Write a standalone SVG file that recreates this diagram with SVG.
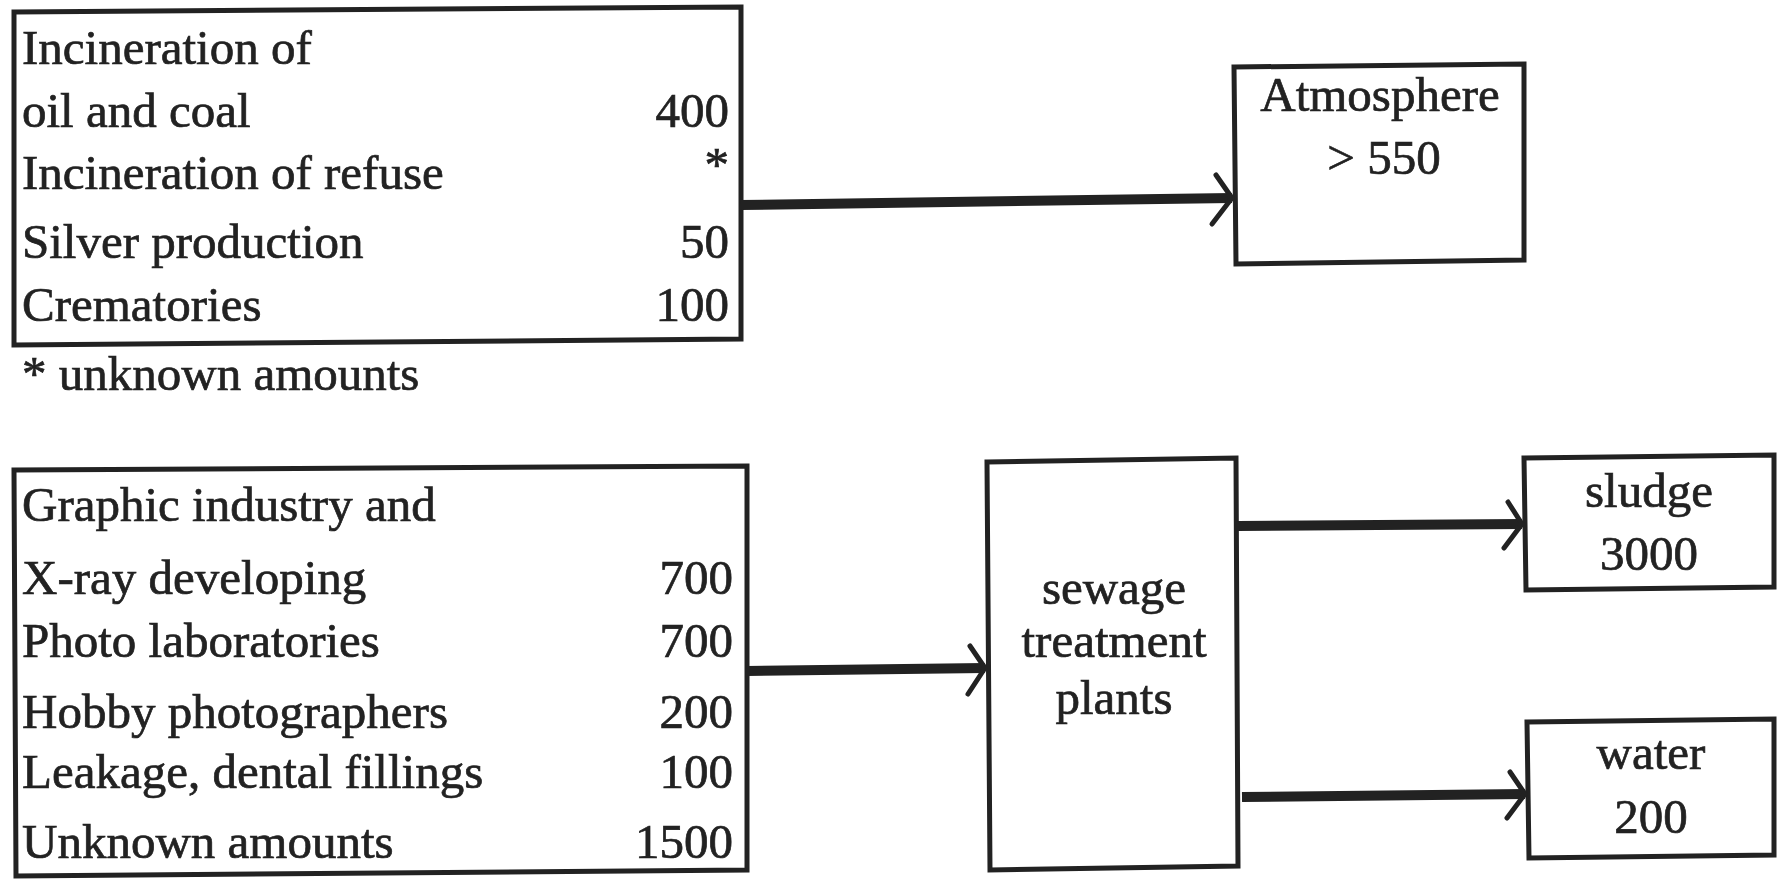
<svg xmlns="http://www.w3.org/2000/svg" width="1783" height="886" viewBox="0 0 1783 886">
<style>
.box{fill:none;stroke:#222;stroke-width:5}
.t{font-family:"Liberation Serif","Times New Roman",serif;font-size:49px;fill:#222;stroke:#222;stroke-width:0.7}
.r{text-anchor:end}
.c{text-anchor:middle}
.shaft{stroke:#222;stroke-width:10;fill:none}
.head{stroke:#222;stroke-width:5;fill:none;stroke-linecap:round;stroke-linejoin:round}
</style>
<rect width="1783" height="886" fill="#fff"/>
<g id="sources-air">
<path class="box" d="M14,12 L741,7 L741,339 L14,345 Z"/>
<text class="t" x="22" y="64">Incineration of</text>
<text class="t" x="22" y="127">oil and coal</text>
<text class="t r" x="729" y="127">400</text>
<text class="t" x="22" y="189">Incineration of refuse</text>
<text class="t r" x="729" y="181">*</text>
<text class="t" x="22" y="258">Silver production</text>
<text class="t r" x="729" y="258">50</text>
<text class="t" x="22" y="321">Crematories</text>
<text class="t r" x="729" y="321">100</text>
</g>
<g id="note">
<text class="t" x="22" y="390">* unknown amounts</text>
</g>
<g id="atmosphere">
<path class="box" d="M1234,67 L1524,64 L1524,260 L1236,264 Z"/>
<text class="t c" x="1380" y="111">Atmosphere</text>
<text class="t c" x="1384" y="174">&gt; 550</text>
</g>
<g id="sources-water">
<path class="box" d="M14,470 L747,466 L747,870 L16,876 Z"/>
<text class="t" x="22" y="521">Graphic industry and</text>
<text class="t" x="22" y="594">X-ray developing</text>
<text class="t r" x="733" y="594">700</text>
<text class="t" x="22" y="657">Photo laboratories</text>
<text class="t r" x="733" y="657">700</text>
<text class="t" x="22" y="728">Hobby photographers</text>
<text class="t r" x="733" y="728">200</text>
<text class="t" x="22" y="788">Leakage, dental fillings</text>
<text class="t r" x="733" y="788">100</text>
<text class="t" x="22" y="858">Unknown amounts</text>
<text class="t r" x="733" y="858">1500</text>
</g>
<g id="sewage">
<path class="box" d="M987,462 L1236,458 L1238,866 L990,870 Z"/>
<text class="t c" x="1114" y="604">sewage</text>
<text class="t c" x="1114" y="657">treatment</text>
<text class="t c" x="1114" y="714">plants</text>
</g>
<g id="sludge">
<path class="box" d="M1524,458 L1774,455 L1774,587 L1526,590 Z"/>
<text class="t c" x="1649" y="507">sludge</text>
<text class="t c" x="1649" y="570">3000</text>
</g>
<g id="water">
<path class="box" d="M1527,722 L1774,719 L1774,855 L1529,858 Z"/>
<text class="t c" x="1651" y="769">water</text>
<text class="t c" x="1651" y="833">200</text>
</g>
<g id="connectors">
<path class="shaft" d="M741,205 L1232,198"/>
<path class="head" d="M1216,175 L1232,198 L1212,224"/>
<path class="shaft" d="M747,671 L985,668"/>
<path class="head" d="M970,646 L985,668 L968,694"/>
<path class="shaft" d="M1238,526 L1522,524"/>
<path class="head" d="M1508,502 L1522,524 L1504,548"/>
<path class="shaft" d="M1242,797 L1525,794"/>
<path class="head" d="M1510,772 L1525,794 L1507,818"/>
</g>
</svg>
